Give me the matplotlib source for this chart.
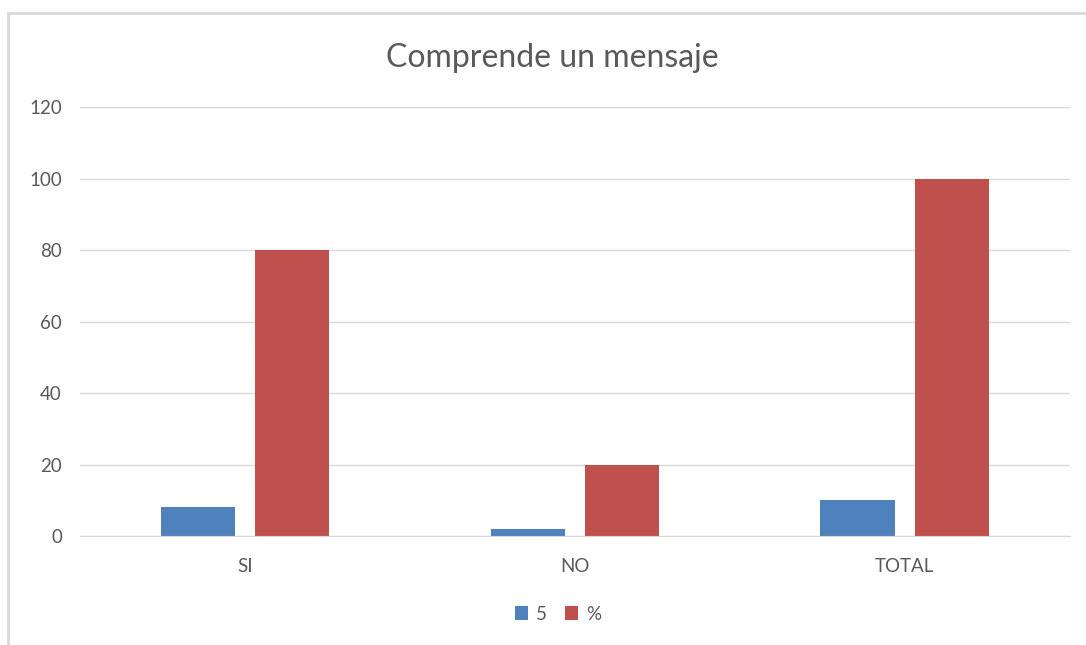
import matplotlib.pyplot as plt
import numpy as np
from matplotlib.lines import Line2D

categorias = ["SI", "NO", "TOTAL"]
serie_cinco = [8, 2, 10]
serie_pct = [80, 20, 100]
nombres = ["5", "%"]
y_ticks = [0, 20, 40, 60, 80, 100, 120]

azul = "#4f81bd"
rojo = "#c0504d"
gris_txt = "#595959"
gris_lin = "#d9d9d9"

plt.rcParams['font.family'] = ['Lato', 'DejaVu Sans']

fig = plt.figure(figsize=(10.86, 6.45), dpi=100)
ax = fig.add_axes([0.0737, 0.169, 0.9113, 0.665])

x = np.arange(len(categorias))
ancho = 0.225
ax.bar(x - 0.143, serie_cinco, ancho, color=azul, label=nombres[0], zorder=3)
ax.bar(x + 0.143, serie_pct, ancho, color=rojo, label=nombres[1], zorder=3)

ax.set_xlim(-0.5, len(categorias) - 0.5)
ax.set_ylim(0, 120)
ax.set_yticks(y_ticks)
ax.set_xticks(x)
ax.set_xticklabels(categorias)
ax.tick_params(axis='both', length=0, colors=gris_txt, labelsize=13.5)
ax.tick_params(axis='y', pad=13)
ax.tick_params(axis='x', pad=16)
ax.grid(axis='y', color=gris_lin, linewidth=1, zorder=0)
for lado in ["top", "right", "left"]:
    ax.spines[lado].set_visible(False)
ax.spines["bottom"].set_color(gris_lin)
ax.spines["bottom"].set_zorder(4)

fig.text(0.509, 0.91, "Comprende un mensaje", ha='center', va='center',
         fontsize=23, color=gris_txt)

ax.legend(loc='center', bbox_to_anchor=(0.483, -0.182), ncol=2, frameon=False,
          fontsize=13.5, labelcolor=gris_txt, handlelength=0.7, handleheight=0.7,
          handletextpad=0.4, columnspacing=1.0)

# marco del gráfico
fig.add_artist(Line2D([8 / 1086, 1], [1 - 13 / 645, 1 - 13 / 645],
                      color=gris_lin, linewidth=2, transform=fig.transFigure))
fig.add_artist(Line2D([8 / 1086, 8 / 1086], [0, 1 - 13 / 645],
                      color=gris_lin, linewidth=2, transform=fig.transFigure))

fig.savefig("out.png", dpi=100)
